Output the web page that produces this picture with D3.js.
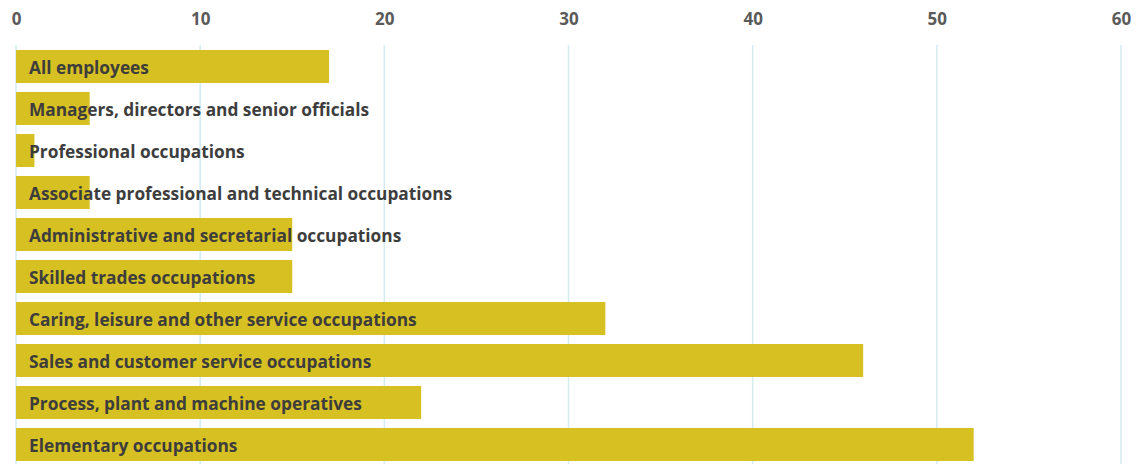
<!DOCTYPE html>
<html lang="en">

<head>
    <meta charset="UTF-8">
    <title>Occupations bar chart</title>
    <style>
        body { margin: 0; background: #fff; }
        text { font-family: "Open Sans", sans-serif; }
    </style>
</head>

<body>
    <script src="https://cdn.jsdelivr.net/npm/d3@7"></script>
    <script>
        const categories = [
            'All employees',
            'Managers, directors and senior officials',
            'Professional occupations',
            'Associate professional and technical occupations',
            'Administrative and secretarial occupations',
            'Skilled trades occupations',
            'Caring, leisure and other service occupations',
            'Sales and customer service occupations',
            'Process, plant and machine operatives',
            'Elementary occupations'
        ];
        const values = [17, 4, 1, 4, 15, 15, 32, 46, 22, 52];
        const tickValues = [0, 10, 20, 30, 40, 50, 60];

        const w = 1142;
        const h = 464;

        const xScale = d3.scaleLinear()
            .domain([0, 60])
            .range([16, 1121]);

        // step of 42px, bars 33px tall
        const yScale = d3.scaleBand()
            .domain(categories)
            .range([45.5, 465.5])
            .paddingInner(0.214)
            .paddingOuter(0.107);

        const svg = d3.select('body')
            .append('svg')
            .attr('width', w)
            .attr('height', h);

        // gridlines
        svg.selectAll('line.grid')
            .data(tickValues)
            .enter()
            .append('line')
            .attr('class', 'grid')
            .attr('x1', d => xScale(d))
            .attr('x2', d => xScale(d))
            .attr('y1', 45)
            .attr('y2', h)
            .attr('stroke', '#d3ebf1')
            .attr('stroke-width', 1.5);

        // top axis, labels only
        const axis = svg.append('g')
            .attr('transform', 'translate(0,25)')
            .call(d3.axisTop(xScale).tickValues(tickValues).tickSize(0).tickPadding(0));
        axis.select('.domain').remove();
        axis.selectAll('text')
            .attr('font-family', '"Open Sans", sans-serif')
            .attr('font-size', 17)
            .attr('font-weight', 700)
            .attr('fill', '#5a5a5a');

        svg.selectAll('rect')
            .data(values)
            .enter()
            .append('rect')
            .attr('x', xScale(0))
            .attr('y', (d, i) => yScale(categories[i]))
            .attr('width', d => xScale(d) - xScale(0))
            .attr('height', yScale.bandwidth())
            .attr('fill', '#d7c021');

        svg.selectAll('text.label')
            .data(categories)
            .enter()
            .append('text')
            .attr('class', 'label')
            .text(d => d)
            .attr('x', 29)
            .attr('y', d => yScale(d) + yScale.bandwidth() / 2)
            .attr('dy', '0.45em')
            .attr('font-size', 17.3)
            .attr('font-weight', 700)
            .attr('fill', '#3d3d3d');
    </script>
</body>

</html>
